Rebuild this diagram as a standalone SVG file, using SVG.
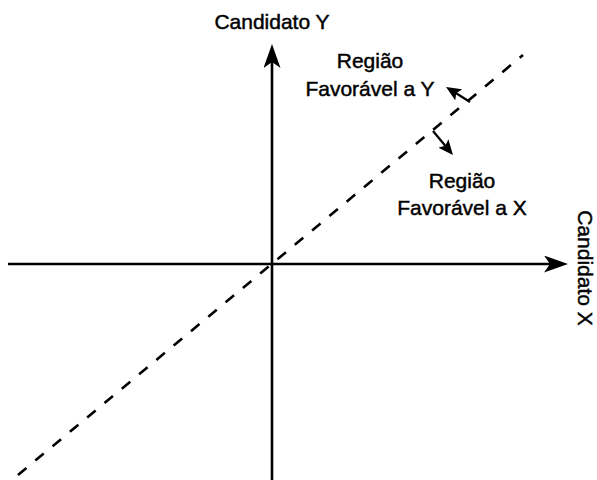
<svg xmlns="http://www.w3.org/2000/svg" width="597" height="480" viewBox="0 0 597 480">
  <style>
    .axis { stroke: #000; stroke-width: 2.6; fill: none; }
    .dash { stroke: #000; stroke-width: 2.6; fill: none; stroke-dasharray: 11 11.5; }
    .small { stroke: #000; stroke-width: 2.2; fill: none; }
    text { font-family: "Liberation Sans", Arial, sans-serif; font-size: 21px; fill: #000; stroke: #000; stroke-width: 0.45; }
  </style>
  <defs>
    <marker id="axisHead" markerUnits="userSpaceOnUse" viewBox="0 0 24 17" refX="6" refY="8.5" markerWidth="24" markerHeight="17" orient="auto">
      <path d="M0,0 L24,8.5 L0,17 L6,8.5 Z" fill="#000"/>
    </marker>
    <marker id="smallHead" markerUnits="userSpaceOnUse" viewBox="0 0 15 13" refX="3" refY="6.5" markerWidth="15" markerHeight="13" orient="auto">
      <path d="M0,0 L15,6.5 L0,13 L3,6.5 Z" fill="#000"/>
    </marker>
  </defs>
  <rect width="597" height="480" fill="#fff"/>
  <g id="connectors">
    <line id="axis-y" class="axis" x1="272" y1="480" x2="272" y2="62" marker-end="url(#axisHead)"/>
    <line id="axis-x" class="axis" x1="8" y1="264" x2="550" y2="264" marker-end="url(#axisHead)"/>
    <line id="diagonal" class="dash" x1="18" y1="475" x2="523" y2="55"/>
    <line id="arrow-y" class="small" x1="470" y1="102" x2="456.2" y2="93.3" marker-end="url(#smallHead)"/>
    <line id="arrow-x" class="small" x1="433" y1="131" x2="445.3" y2="145.8" marker-end="url(#smallHead)"/>
  </g>
  <g id="label-candidato-y">
    <text x="272" y="29" text-anchor="middle">Candidato Y</text>
  </g>
  <g id="label-candidato-x">
    <text transform="translate(578,268) rotate(90)" text-anchor="middle">Candidato X</text>
  </g>
  <g id="label-regiao-y">
    <text x="370" y="68" text-anchor="middle">Região</text>
    <text x="370" y="96" text-anchor="middle">Favorável a Y</text>
  </g>
  <g id="label-regiao-x">
    <text x="462" y="188" text-anchor="middle">Região</text>
    <text x="462" y="215" text-anchor="middle">Favorável a X</text>
  </g>
</svg>
